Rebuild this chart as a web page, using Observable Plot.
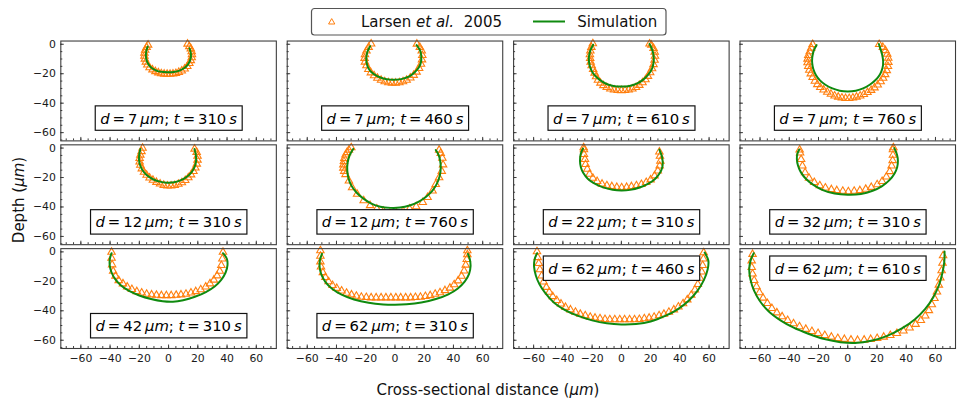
<!DOCTYPE html>
<html>
<head>
<meta charset="utf-8">
<script src="https://cdn.jsdelivr.net/npm/d3@7"></script>
<script src="https://cdn.jsdelivr.net/npm/@observablehq/plot@0.6"></script>
<style>
  html, body { margin: 0; padding: 0; background: #fff; overflow: hidden; width: 958px; height: 405px; }
  #wrap { position: relative; width: 958px; height: 405px; overflow: hidden; font-family: "DejaVu Sans", sans-serif; }
  #chart { position: absolute; left: 0; top: 0; }
  #overlay { position: absolute; left: 0; top: 0; pointer-events: none; }
</style>
</head>
<body>
<div id="wrap">
  <div id="chart"></div>
  <svg id="overlay" width="958" height="405" font-family="DejaVu Sans" fill="#111">
    <g id="legend"></g>
    <text x="488" y="395" font-size="15" text-anchor="middle">Cross-sectional distance (<tspan font-style="italic">μm</tspan>)</text>
    <text transform="translate(24,200) rotate(-90)" font-size="15" text-anchor="middle">Depth (<tspan font-style="italic">μm</tspan>)</text>
  </svg>
</div>
<script>
// ---------------- data ----------------
const diameters = [7, 7, 7, 7, 12, 12, 22, 32, 42, 62, 62, 62];
const times = [310, 460, 610, 760, 310, 760, 310, 310, 310, 310, 460, 610];

const xTicks = [-60, -40, -20, 0, 20, 40, 60];
const yTicks = [0, -20, -40, -60];

// Larsen et al. 2005 (experiment), [x, depth]
const larsen_d7_t310 = [[-14,-0.5],[-15,-2],[-16,-4],[-16.5,-6],[-16.5,-8],[-16.2,-10],[-15.5,-12],[-14.5,-14],[-13,-15.8],[-11,-17.3],[-9,-18.5],[-7,-19.3],[-5,-19.9],[-3,-20.2],[-1,-20.3],[1,-20.3],[3,-20.1],[5,-19.7],[7,-19],[9,-18],[11,-16.7],[12.8,-15],[14.2,-13],[15.2,-11],[15.8,-9],[16,-7],[15.8,-5],[15.2,-3],[14.2,-1.5],[13,0.2]];
const larsen_d7_t460 = [[-16.3,0.3],[-18,-2],[-19.5,-4.5],[-20.5,-7],[-20.8,-9.5],[-20.5,-12],[-19.5,-14.5],[-18.2,-17],[-16.5,-19.3],[-14.3,-21.3],[-12,-23],[-9.5,-24.3],[-7,-25.3],[-4.5,-26],[-2,-26.3],[0.5,-26.3],[3,-26],[5.5,-25.3],[8,-24.3],[10.5,-22.8],[12.8,-21],[14.8,-18.8],[16.5,-16.3],[17.8,-13.5],[18.5,-10.5],[18.7,-7.5],[18.3,-4.5],[17,-2],[15,0.2]];
const larsen_d7_t610 = [[-19.5,0.5],[-20.5,-2],[-21.2,-4.5],[-21.5,-7],[-21.3,-9.5],[-21,-12],[-20.3,-14.5],[-19.3,-17],[-18.3,-19.5],[-17.3,-22],[-16,-24.3],[-14.3,-26.3],[-12.3,-28],[-10,-29.3],[-7.5,-30.3],[-5,-31],[-2.5,-31.3],[0,-31.4],[2.5,-31.3],[5,-31],[7.5,-30.3],[10,-29.3],[12.3,-27.8],[14.5,-26],[16.5,-24],[18.2,-21.7],[19.7,-19.2],[21,-16.5],[22,-13.7],[22.7,-10.8],[23,-8],[22.8,-5.3],[22,-2.8],[20.5,-0.5],[19.3,0.3]];
const larsen_d7_t760 = [[-24,0],[-25,-2.5],[-26,-5],[-27,-7.5],[-27.5,-10],[-27.5,-12.5],[-27,-15],[-26.3,-17.5],[-25.3,-20],[-24,-22.5],[-22.5,-25],[-20.8,-27.3],[-18.8,-29.3],[-16.5,-31],[-14,-32.5],[-11.5,-33.8],[-9,-35],[-6.5,-35.8],[-4,-36.4],[-1.5,-36.7],[1,-36.7],[3.5,-36.4],[6,-35.8],[8.5,-35],[11,-34],[13.5,-32.7],[16,-31.2],[18.3,-29.5],[20.5,-27.5],[22.5,-25.3],[24.2,-23],[25.6,-20.5],[26.7,-17.8],[27.5,-15],[27.8,-12.2],[27.7,-9.4],[27,-6.7],[25.8,-4.2],[24,-2],[21.5,0]];
const larsen_d12_t310 = [[-17.8,0],[-18.5,-2.3],[-19.3,-4.7],[-19.8,-7],[-19.8,-9.3],[-19.3,-11.6],[-18.3,-14],[-16.8,-16.3],[-15,-18.3],[-13,-20.2],[-10.7,-21.8],[-8.3,-23.2],[-5.8,-24.3],[-3.3,-25.2],[-0.8,-25.6],[1.7,-25.7],[4.2,-25.3],[6.7,-24.5],[9.1,-23.4],[11.4,-21.9],[13.5,-20.1],[15.4,-18.1],[17,-15.8],[18.3,-13.4],[19.3,-10.8],[19.8,-8.1],[19.8,-5.4],[19.2,-2.8],[17.8,-0.6]];
const larsen_d12_t760 = [[-29.9,0.3],[-31.5,-1.3],[-32.8,-3],[-33.8,-4.6],[-34.6,-7],[-34.9,-9],[-35.3,-11.3],[-35.3,-13.5],[-34.7,-15.7],[-33.8,-17.9],[-31.5,-22.3],[-29.3,-26.8],[-25.9,-31.3],[-21.4,-35.7],[-17,-39],[-12.4,-41.3],[-7.9,-42.8],[-3.5,-44.1],[1,-44.1],[5.5,-42.8],[10,-41.3],[14.5,-39.7],[19,-36.8],[22.3,-33.5],[25.7,-29],[27.9,-24.6],[30.2,-20.1],[32,-15.7],[32.9,-11.3],[32.4,-6.8],[31.3,-3.5],[30.2,-1.3]];
const larsen_d22_t310 = [[-25.8,0.3],[-25.6,-1],[-25.6,-4.3],[-24.9,-7.7],[-24.5,-11],[-23.3,-14.3],[-21.8,-17.7],[-19.5,-20.4],[-16.6,-22.6],[-13.2,-24.4],[-9.9,-25.5],[-6.5,-26.1],[-3.1,-26.6],[0.2,-26.8],[3.6,-26.6],[6.9,-26.1],[10.3,-25.5],[13.7,-24.6],[17,-23.3],[20,-21.5],[22.7,-18.8],[24.9,-15.5],[26.2,-12.1],[26.7,-8.8],[26.4,-5.5],[26,-2.6]];
const larsen_d32_t310 = [[-32.9,-1.2],[-32.6,-3.2],[-31.9,-7.7],[-31,-12.1],[-29.2,-16.6],[-26.5,-20.4],[-22.9,-23.3],[-19.1,-25.5],[-15.3,-27],[-11.2,-28.1],[-7.5,-28.8],[-3.4,-29.2],[0.4,-29.5],[4.4,-29.2],[8.3,-28.8],[12.3,-27.9],[16.1,-26.6],[20.1,-24.8],[23.5,-22.6],[26.4,-19.5],[28.7,-15.9],[30,-12.1],[30.7,-8.4],[30.9,-4.8],[30.9,-1],[31.2,0.3]];
const larsen_d42_t310 = [[-39,-0.2],[-39,-4.2],[-38.6,-8.7],[-37.9,-13.1],[-36.3,-16.5],[-34.1,-19.4],[-31.2,-21.6],[-28.3,-23.8],[-25.1,-25.4],[-21.7,-26.9],[-18.4,-27.8],[-15,-28.7],[-11.6,-29.1],[-8.3,-29.4],[-4.9,-29.6],[-1.5,-29.6],[1.8,-29.6],[5.2,-29.4],[8.5,-29.1],[11.9,-28.7],[15.3,-27.8],[18.6,-26.9],[22,-25.6],[25.4,-23.8],[28.3,-21.6],[31,-19.1],[33.2,-16.2],[35,-13.1],[36.1,-9.1],[36.8,-4.7],[37.2,-0.2]];
const larsen_d62_t310 = [[-51,0.9],[-51,-2.9],[-51,-6.7],[-50.6,-10.2],[-49.3,-14],[-47.6,-17.3],[-45.4,-20.2],[-42.7,-22.7],[-39.8,-24.7],[-36.5,-26.5],[-33.1,-28],[-29.7,-29.1],[-26.4,-30],[-23,-30.7],[-19.6,-30.9],[-16.3,-31.1],[-12.9,-31.1],[-9.5,-31.1],[-6.2,-31.1],[-2.8,-31.1],[0.6,-31.1],[3.9,-31.1],[7.3,-31.1],[10.7,-31.1],[14,-30.9],[17.4,-30.7],[20.8,-30.2],[24.1,-29.6],[27.5,-28.7],[30.8,-27.6],[34.2,-26.2],[37.6,-24.5],[40.5,-22.2],[43.2,-19.6],[45.5,-16.5],[47.3,-12.9],[48.4,-8.9],[49.1,-5.1],[49.5,-1.8],[49.5,0.9]];
const larsen_d62_t460 = [[-57.7,0.2],[-57.2,-3.8],[-56.5,-7.8],[-55.7,-12],[-54.5,-16.3],[-53.2,-20.3],[-51.3,-24],[-49.3,-27.3],[-46.9,-30.3],[-44.2,-32.9],[-41.3,-35.3],[-38.2,-37.6],[-34.8,-39.3],[-31.4,-40.9],[-28.1,-42.3],[-24.7,-43.3],[-21.3,-44.3],[-18,-44.9],[-14.6,-45.3],[-11.2,-45.8],[-7.9,-46],[-4.5,-46],[-1.1,-46],[2.2,-46],[5.6,-46],[9,-46],[12.3,-45.8],[15.7,-45.3],[19,-44.9],[22.4,-44.3],[25.8,-43.3],[29.1,-42.3],[32.5,-40.9],[35.9,-39.3],[39,-37.3],[42.2,-35.1],[45.1,-32.5],[47.8,-29.3],[50.3,-25.8],[52.3,-22],[53.8,-17.8],[55,-13.6],[55.6,-9.1],[56.1,-4.7],[56.3,-0.5]];
const larsen_d62_t610 = [[-65.1,-1.6],[-65.7,-6],[-65.7,-10.5],[-65.1,-14.9],[-64,-19.3],[-62.4,-23.6],[-60.4,-27.6],[-57.9,-31.3],[-55,-34.9],[-51.9,-38.3],[-48.5,-41.3],[-44.9,-44],[-41.1,-46.5],[-37.1,-48.7],[-33,-50.7],[-28.7,-52.5],[-24.5,-54],[-20.3,-55.3],[-15.7,-56.7],[-11.2,-57.8],[-6.8,-58.7],[-2.3,-59.3],[2.2,-59.8],[6.7,-60],[11.2,-59.8],[15.7,-59.3],[20.1,-58.7],[24.6,-57.8],[29.1,-56.7],[33.6,-55.3],[38.1,-53.6],[42.3,-51.6],[46.4,-49.1],[50,-46.5],[53,-43.4],[55.5,-39.8],[57.5,-35.8],[59.3,-31.6],[61,-27.1],[62.3,-22.5],[63.3,-17.6],[64.2,-12.7],[64.8,-7.6],[65.2,-2.5]];

// Simulation, [x, depth]
const sim_d7_t310 = [[-14.3,-1.6],[-15.3,-5],[-15.5,-8],[-15,-11],[-13.5,-14],[-11,-16.5],[-7.5,-18.2],[-3.5,-18.9],[0,-19],[3.5,-18.8],[7.5,-17.9],[11,-16],[13.5,-13.3],[15,-10],[15.3,-6.5],[14.3,-2.7]];
const sim_d7_t460 = [[-17,-1.3],[-18.8,-5],[-19.6,-9],[-19.4,-12.5],[-18.3,-16],[-16,-19],[-12.5,-21.5],[-8,-23.2],[-3,-24],[1,-24],[5,-23.5],[9.5,-22],[13.5,-19],[16.5,-15.5],[17.8,-12],[18,-8.5],[17.3,-4.5],[14.8,-0.5]];
const sim_d7_t610 = [[-19.3,-0.3],[-21.3,-4.5],[-22.2,-9],[-22,-13],[-20.8,-17],[-18.5,-20.8],[-15,-24],[-10.5,-26.8],[-5.5,-28.3],[0,-28.7],[5.5,-28.3],[10.5,-26.7],[15,-24],[18.5,-20.5],[21,-16.5],[22.1,-12],[22,-7.5],[21,-3.5],[19.3,0.2]];
const sim_d7_t760 = [[-21.3,-0.5],[-23.3,-4.5],[-24.3,-9],[-24.3,-13],[-23.5,-17],[-21.7,-21],[-19,-24.5],[-15.3,-27.5],[-10.5,-30],[-5.5,-31.5],[0,-32],[5.5,-31.5],[10.5,-30],[15,-27.5],[19,-24.3],[22,-20.5],[23.8,-16],[24.2,-11.5],[23.5,-7],[22.3,-3],[21.3,0.2]];
const sim_d12_t310 = [[-19.3,-0.6],[-20,-4],[-20.2,-8],[-19.5,-11.5],[-17.8,-15],[-15,-18.3],[-11,-21],[-6,-22.8],[-1,-23.5],[4,-23.2],[8.5,-21.8],[12.5,-19.5],[15.8,-16.3],[17.8,-12.8],[18.8,-9],[18.7,-5],[17.7,-0.6]];
const sim_d12_t760 = [[-28.6,-0.6],[-31,-5],[-32.4,-10],[-32.6,-15.5],[-31.8,-20.5],[-29.8,-25.5],[-26.5,-30],[-22,-34],[-16.5,-37.5],[-10,-39.8],[-3,-40.6],[3.5,-40.4],[10,-39],[16,-36.5],[21.3,-33],[25.5,-29],[28.6,-24.3],[30.6,-19],[31.3,-13.5],[30.8,-8],[29.5,-4],[27.9,-1.3]];
const sim_d22_t310 = [[-26.2,-0.3],[-27.8,-4],[-28.3,-8.8],[-27.7,-13],[-26,-17],[-23,-20.8],[-18.5,-24],[-12.5,-26.7],[-6,-28.3],[0,-28.8],[6,-28.4],[12.5,-26.8],[18.5,-24.2],[23.2,-20.8],[26.3,-17],[28,-13],[28.3,-9.9],[27.7,-5.5],[26,-1]];
const sim_d32_t310 = [[-33.2,-1],[-34.5,-4],[-34.8,-7.5],[-34,-12],[-32,-16.5],[-28.5,-21],[-23.5,-25],[-17,-28.5],[-9,-30.9],[0,-31.7],[9,-31.2],[17,-29],[23.5,-25.8],[28.5,-21.8],[32,-17.2],[33.8,-13],[34.3,-8.8],[33.7,-4.5],[31.8,0]];
const sim_d42_t310 = [[-39,-0.9],[-40.2,-5],[-40.2,-9.5],[-39,-14],[-36.5,-18.5],[-32.5,-22.8],[-27,-26.5],[-20,-29.6],[-12,-32],[-4,-33.5],[3,-33.8],[10,-32.8],[18,-30.5],[25.5,-27.3],[31.5,-23.5],[36,-19],[39,-14],[40.3,-9],[39.8,-4.5],[37.2,-0.9]];
const sim_d62_t310 = [[-49.9,-1.3],[-51.3,-5.5],[-51.5,-10.5],[-50.3,-15.5],[-47.5,-20.5],[-43,-25],[-36.5,-29],[-28,-32.3],[-18,-34.6],[-8,-35.7],[0,-35.9],[8,-35.6],[18,-34.4],[28,-32],[36.5,-28.8],[43,-24.8],[47.8,-20],[50.7,-15],[51.7,-9.8],[51.2,-5],[49.9,-1.3]];
const sim_d62_t460 = [[-57.7,-0.9],[-59.3,-5],[-59.7,-10],[-58.5,-16],[-56,-22],[-52,-28],[-46,-34.5],[-38.5,-39.5],[-30,-43.3],[-20,-46.5],[-10,-48.5],[0,-49.3],[10,-49],[20,-47.3],[30,-43.5],[38.5,-39],[46,-33.2],[52,-26.5],[56.5,-19],[59,-12],[59.5,-6],[57,-0.5]];
const sim_d62_t610 = [[-64.3,-0.9],[-66.5,-6],[-67.4,-12],[-66.5,-19],[-64,-26.5],[-60,-33.5],[-54,-40.5],[-46,-46.5],[-37,-51.5],[-27,-55.6],[-16,-59.2],[-5,-61.3],[5,-61.8],[16,-60.4],[27,-57],[37,-52],[46,-45.7],[53,-38.7],[58.5,-30.8],[62.5,-22.3],[64.8,-14],[66,-7],[66.2,0.2]];

const larsenSeries = [larsen_d7_t310, larsen_d7_t460, larsen_d7_t610, larsen_d7_t760,
  larsen_d12_t310, larsen_d12_t760, larsen_d22_t310, larsen_d32_t310,
  larsen_d42_t310, larsen_d62_t310, larsen_d62_t460, larsen_d62_t610];
const simSeries = [sim_d7_t310, sim_d7_t460, sim_d7_t610, sim_d7_t760,
  sim_d12_t310, sim_d12_t760, sim_d22_t310, sim_d32_t310,
  sim_d42_t310, sim_d62_t310, sim_d62_t460, sim_d62_t610];

// ---------------- layout / style ----------------
const NCOL = 4;
const topLabelPanels = [10, 11];
const orange = "#ff7f0e";
const green = "#0f8a0f";
const frameColor = "#3c3c3c";

const toRows = (series) => series.flatMap((pts, i) =>
  pts.map(([x, y]) => ({panel: i, col: i % NCOL, row: Math.floor(i / NCOL), x, y})));
const larsenRows = toRows(larsenSeries);
const simRows = toRows(simSeries);
const labelRows = diameters.map((d, i) => ({
  panel: i, col: i % NCOL, row: Math.floor(i / NCOL),
  label: `d = ${d} μm; t = ${times[i]} s`,
  top: topLabelPanels.includes(i)
}));

const fmt = d => d < 0 ? "\u2212" + Math.abs(d) : String(d);
const minorX = d3.range(-70, 71, 5);
const minorY = d3.range(-65, 1, 5);

const chart = Plot.plot({
  width: 969,
  height: 405,
  marginLeft: 59,
  marginRight: 1,
  marginTop: 41,
  marginBottom: 51.9,
  style: {fontFamily: "DejaVu Sans", fontSize: "10.5px", color: "#1a1a1a", background: "transparent", overflow: "visible"},
  fx: {domain: [0, 1, 2, 3], padding: 0.0478, axis: null},
  fy: {domain: [0, 1, 2], padding: 0.036, axis: null},
  x: {domain: [-73.7, 73.7]},
  y: {domain: [-65.6, 2.2]},
  marks: [
    // inward minor / major ticks on every panel
    Plot.axisX({ticks: minorX, tickSize: -2, text: null, label: null, facetAnchor: null, stroke: frameColor}),
    Plot.axisX({ticks: xTicks, tickSize: -3.5, text: null, label: null, facetAnchor: null, stroke: frameColor}),
    Plot.axisY({ticks: minorY, tickSize: -2, text: null, label: null, facetAnchor: null, stroke: frameColor}),
    Plot.axisY({ticks: yTicks, tickSize: -3.5, text: null, label: null, facetAnchor: null, stroke: frameColor}),
    // tick labels (outer panels only)
    Plot.axisX({ticks: xTicks, tickSize: 0, tickPadding: 6, tickFormat: fmt, label: null, fontSize: 11, fill: "#1a1a1a"}),
    Plot.axisY({ticks: yTicks, tickSize: 0, tickPadding: 5, tickFormat: fmt, label: null, fontSize: 11, fill: "#1a1a1a"}),
    // data
    Plot.dot(larsenRows, {x: "x", y: "y", fx: "col", fy: "row", symbol: "triangle", r: 2.8,
      stroke: orange, fill: "none", strokeWidth: 1.1}),
    Plot.line(simRows, {x: "x", y: "y", fx: "col", fy: "row", z: "panel", curve: "catmull-rom",
      stroke: green, strokeWidth: 2}),
    // panel labels
    Plot.text(labelRows.filter(d => !d.top), {text: "label", fx: "col", fy: "row", frameAnchor: "bottom",
      dy: -17.5, fontSize: 15, fill: "#000"}),
    Plot.text(labelRows.filter(d => d.top), {text: "label", fx: "col", fy: "row", frameAnchor: "top",
      dy: 14.7, fontSize: 15, fill: "#000"}),
    Plot.frame({stroke: frameColor, strokeWidth: 1.1})
  ]
});
document.getElementById("chart").append(chart);

// italic math-style labels with a boxed background
const NS = "http://www.w3.org/2000/svg";
chart.querySelectorAll("text").forEach(t => {
  const m = t.textContent.match(/^d = (\d+)\s*μm;\s*t = (\d+)\s*s$/);
  if (!m) return;
  t.textContent = "";
  const parts = [["d", true], ["\u2009=\u2009" + m[1] + "\u2009", false], ["μm", true], ["; ", false],
    ["t", true], ["\u2009=\u2009" + m[2] + "\u2009", false], ["s", true]];
  for (const [s, it] of parts) {
    const ts = document.createElementNS(NS, "tspan");
    ts.textContent = s;
    if (it) ts.setAttribute("font-style", "italic");
    t.appendChild(ts);
  }
  t.setAttribute("xml:space", "preserve");
  const b = t.getBBox();
  const r = document.createElementNS(NS, "rect");
  const px = 5;
  r.setAttribute("x", b.x - px);
  r.setAttribute("y", b.y + b.height / 2 - 12.35);
  r.setAttribute("width", b.width + 2 * px);
  r.setAttribute("height", 24.7);
  r.setAttribute("fill", "#fff");
  r.setAttribute("stroke", "#111");
  r.setAttribute("stroke-width", 1.2);
  const tr = t.getAttribute("transform");
  if (tr) r.setAttribute("transform", tr);
  t.parentNode.insertBefore(r, t);
});

// legend
const lg = d3.select("#legend");
lg.append("rect").attr("x", 311.5).attr("y", 8.5).attr("width", 354.5).attr("height", 26.5)
  .attr("rx", 3).attr("fill", "#fff").attr("stroke", "#555").attr("stroke-width", 1.2);
lg.append("path").attr("d", d3.symbol(d3.symbolTriangle, 17)())
  .attr("transform", "translate(331.7,22.2)").attr("fill", "none").attr("stroke", orange).attr("stroke-width", 1);
const lt = lg.append("text").attr("x", 361).attr("y", 27).attr("font-size", 15);
lt.append("tspan").text("Larsen ");
lt.append("tspan").attr("font-style", "italic").text("et al.");
lt.append("tspan").attr("dx", 5).text(" 2005");
lg.append("line").attr("x1", 533).attr("x2", 565).attr("y1", 21.5).attr("y2", 21.5)
  .attr("stroke", green).attr("stroke-width", 2);
lg.append("text").attr("x", 577.3).attr("y", 27).attr("font-size", 15).text("Simulation");
</script>
</body>
</html>
